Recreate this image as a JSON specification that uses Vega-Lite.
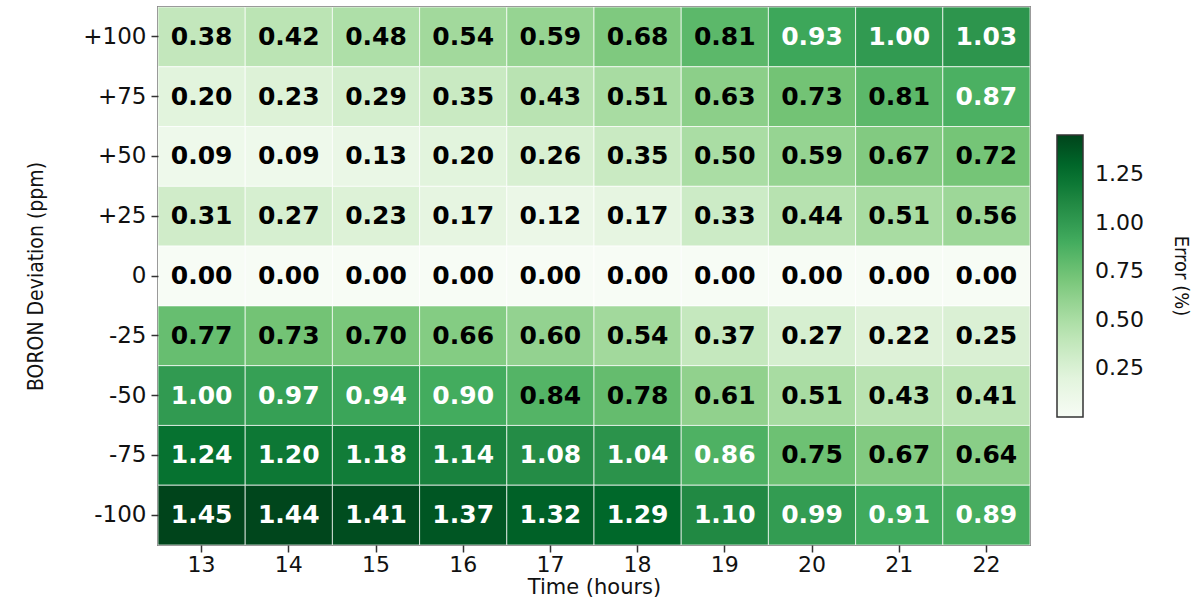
{
  "$schema": "https://vega.github.io/schema/vega-lite/v6.json",
  "autosize": {"type": "none"},
  "padding": {"left": 158, "top": 7, "right": 169, "bottom": 52},
  "width": 872,
  "height": 538,
  "background": "white",
  "config": {
    "view": {"stroke": "#333333", "strokeWidth": 1.5},
    "font": "DejaVu Sans"
  },
  "data": {
    "values": [
      {"t": 13, "b": "+100", "v": 0.38}, {"t": 14, "b": "+100", "v": 0.42}, {"t": 15, "b": "+100", "v": 0.48}, {"t": 16, "b": "+100", "v": 0.54}, {"t": 17, "b": "+100", "v": 0.59}, {"t": 18, "b": "+100", "v": 0.68}, {"t": 19, "b": "+100", "v": 0.81}, {"t": 20, "b": "+100", "v": 0.93}, {"t": 21, "b": "+100", "v": 1.00}, {"t": 22, "b": "+100", "v": 1.03},
      {"t": 13, "b": "+75", "v": 0.20}, {"t": 14, "b": "+75", "v": 0.23}, {"t": 15, "b": "+75", "v": 0.29}, {"t": 16, "b": "+75", "v": 0.35}, {"t": 17, "b": "+75", "v": 0.43}, {"t": 18, "b": "+75", "v": 0.51}, {"t": 19, "b": "+75", "v": 0.63}, {"t": 20, "b": "+75", "v": 0.73}, {"t": 21, "b": "+75", "v": 0.81}, {"t": 22, "b": "+75", "v": 0.87},
      {"t": 13, "b": "+50", "v": 0.09}, {"t": 14, "b": "+50", "v": 0.09}, {"t": 15, "b": "+50", "v": 0.13}, {"t": 16, "b": "+50", "v": 0.20}, {"t": 17, "b": "+50", "v": 0.26}, {"t": 18, "b": "+50", "v": 0.35}, {"t": 19, "b": "+50", "v": 0.50}, {"t": 20, "b": "+50", "v": 0.59}, {"t": 21, "b": "+50", "v": 0.67}, {"t": 22, "b": "+50", "v": 0.72},
      {"t": 13, "b": "+25", "v": 0.31}, {"t": 14, "b": "+25", "v": 0.27}, {"t": 15, "b": "+25", "v": 0.23}, {"t": 16, "b": "+25", "v": 0.17}, {"t": 17, "b": "+25", "v": 0.12}, {"t": 18, "b": "+25", "v": 0.17}, {"t": 19, "b": "+25", "v": 0.33}, {"t": 20, "b": "+25", "v": 0.44}, {"t": 21, "b": "+25", "v": 0.51}, {"t": 22, "b": "+25", "v": 0.56},
      {"t": 13, "b": "0", "v": 0.00}, {"t": 14, "b": "0", "v": 0.00}, {"t": 15, "b": "0", "v": 0.00}, {"t": 16, "b": "0", "v": 0.00}, {"t": 17, "b": "0", "v": 0.00}, {"t": 18, "b": "0", "v": 0.00}, {"t": 19, "b": "0", "v": 0.00}, {"t": 20, "b": "0", "v": 0.00}, {"t": 21, "b": "0", "v": 0.00}, {"t": 22, "b": "0", "v": 0.00},
      {"t": 13, "b": "-25", "v": 0.77}, {"t": 14, "b": "-25", "v": 0.73}, {"t": 15, "b": "-25", "v": 0.70}, {"t": 16, "b": "-25", "v": 0.66}, {"t": 17, "b": "-25", "v": 0.60}, {"t": 18, "b": "-25", "v": 0.54}, {"t": 19, "b": "-25", "v": 0.37}, {"t": 20, "b": "-25", "v": 0.27}, {"t": 21, "b": "-25", "v": 0.22}, {"t": 22, "b": "-25", "v": 0.25},
      {"t": 13, "b": "-50", "v": 1.00}, {"t": 14, "b": "-50", "v": 0.97}, {"t": 15, "b": "-50", "v": 0.94}, {"t": 16, "b": "-50", "v": 0.90}, {"t": 17, "b": "-50", "v": 0.84}, {"t": 18, "b": "-50", "v": 0.78}, {"t": 19, "b": "-50", "v": 0.61}, {"t": 20, "b": "-50", "v": 0.51}, {"t": 21, "b": "-50", "v": 0.43}, {"t": 22, "b": "-50", "v": 0.41},
      {"t": 13, "b": "-75", "v": 1.24}, {"t": 14, "b": "-75", "v": 1.20}, {"t": 15, "b": "-75", "v": 1.18}, {"t": 16, "b": "-75", "v": 1.14}, {"t": 17, "b": "-75", "v": 1.08}, {"t": 18, "b": "-75", "v": 1.04}, {"t": 19, "b": "-75", "v": 0.86}, {"t": 20, "b": "-75", "v": 0.75}, {"t": 21, "b": "-75", "v": 0.67}, {"t": 22, "b": "-75", "v": 0.64},
      {"t": 13, "b": "-100", "v": 1.45}, {"t": 14, "b": "-100", "v": 1.44}, {"t": 15, "b": "-100", "v": 1.41}, {"t": 16, "b": "-100", "v": 1.37}, {"t": 17, "b": "-100", "v": 1.32}, {"t": 18, "b": "-100", "v": 1.29}, {"t": 19, "b": "-100", "v": 1.10}, {"t": 20, "b": "-100", "v": 0.99}, {"t": 21, "b": "-100", "v": 0.91}, {"t": 22, "b": "-100", "v": 0.89}
    ]
  },
  "encoding": {
    "x": {
      "field": "t", "type": "ordinal", "title": "Time (hours)",
      "scale": {"paddingInner": 0, "paddingOuter": 0},
      "axis": {
        "labelAngle": 0, "labelFontSize": 22, "labelColor": "#111", "labelPadding": 2,
        "tickSize": 7, "tickColor": "#333", "tickWidth": 1.5, "domain": false,
        "titleFontSize": 21, "titleFontWeight": "normal", "titleColor": "#111",
        "titleY": 42, "titleBaseline": "middle"
      }
    },
    "y": {
      "field": "b", "type": "ordinal", "title": "BORON Deviation (ppm)",
      "sort": ["+100", "+75", "+50", "+25", "0", "-25", "-50", "-75", "-100"],
      "scale": {"paddingInner": 0, "paddingOuter": 0},
      "axis": {
        "labelFontSize": 23, "labelColor": "#111", "labelPadding": 5,
        "tickSize": 7, "tickColor": "#333", "tickWidth": 1.5, "domain": false,
        "titleFont": "DejaVu Sans Condensed", "titleFontSize": 21, "titleFontWeight": "normal",
        "titleColor": "#111", "titlePadding": 36
      }
    }
  },
  "layer": [
    {
      "mark": {"type": "rect", "stroke": "white", "strokeWidth": 1, "strokeOpacity": 0.7},
      "encoding": {
        "color": {
          "field": "v", "type": "quantitative", "title": "Error (%)",
          "scale": {
            "domain": [0, 0.18125, 0.3625, 0.54375, 0.725, 0.90625, 1.0875, 1.26875, 1.45],
            "range": ["#f7fcf5", "#e5f5e0", "#c7e9c0", "#a1d99b", "#74c476", "#41ab5d", "#238b45", "#006d2c", "#00441b"],
            "interpolate": "rgb"
          },
          "legend": {
            "orient": "none", "legendX": 899, "legendY": 128,
            "direction": "vertical",
            "gradientLength": 282, "gradientThickness": 26,
            "gradientStrokeColor": "#333", "gradientStrokeWidth": 1.5,
            "values": [0.25, 0.5, 0.75, 1.0, 1.25], "format": ".2f",
            "labelFontSize": 22, "labelColor": "#111", "labelOffset": 12,
            "titleOrient": "right", "titleAngle": -90, "titleFont": "DejaVu Sans Condensed",
            "titleFontSize": 20, "titleFontWeight": "normal", "titleColor": "#111",
            "titleAnchor": "middle", "titlePadding": 47, "titleBaseline": "top"
          }
        }
      }
    },
    {
      "mark": {"type": "text", "fontWeight": "bold", "fontSize": 25, "font": "DejaVu Sans"},
      "encoding": {
        "text": {"field": "v", "type": "quantitative", "format": ".2f"},
        "color": {
          "condition": {"test": "datum.v > 0.85", "value": "white"},
          "value": "black"
        }
      }
    }
  ]
}
